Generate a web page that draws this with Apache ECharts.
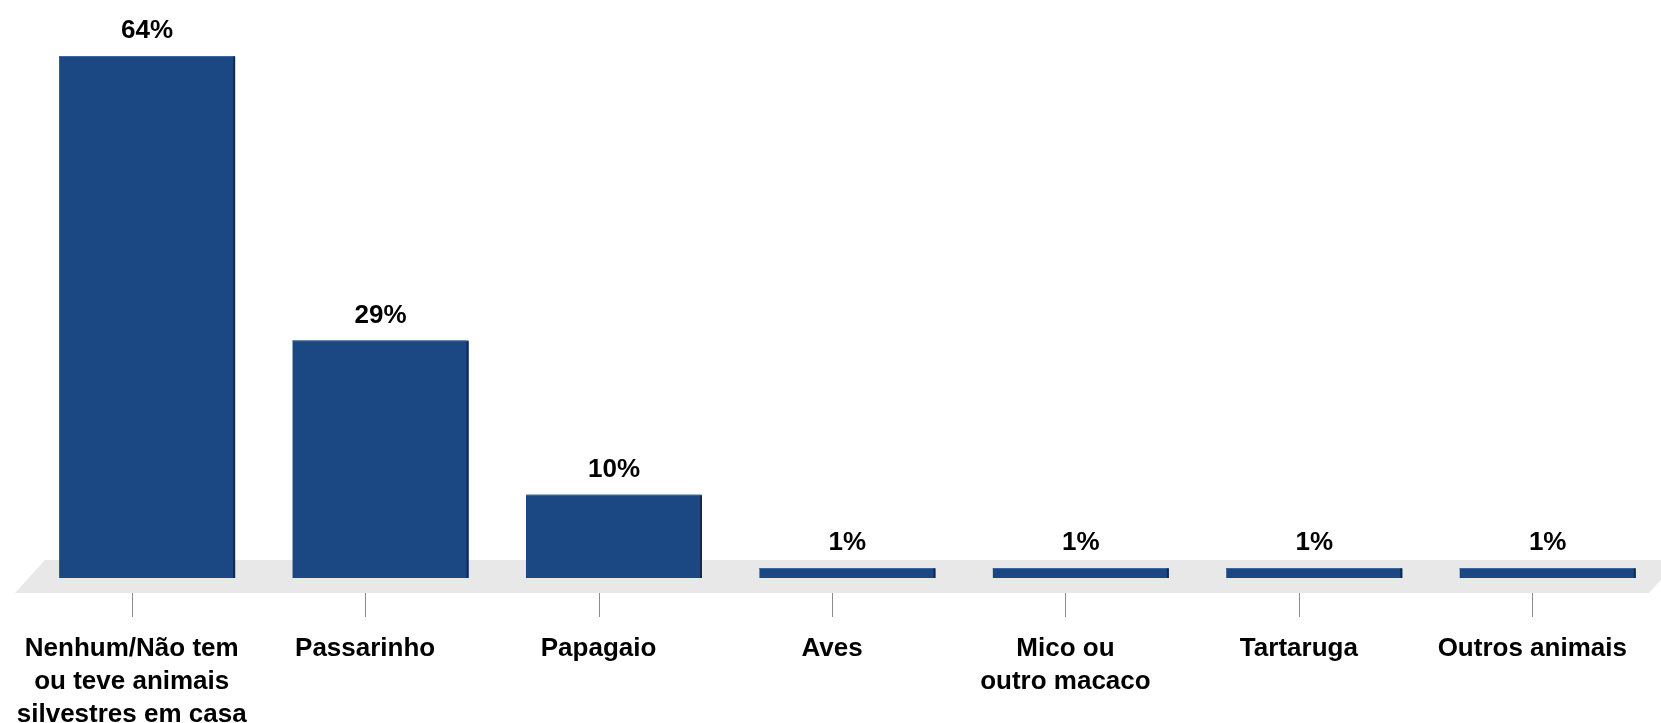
<!DOCTYPE html>
<html>
<head>
<meta charset="utf-8">
<title>Animais silvestres em casa</title>
<script src="https://cdn.jsdelivr.net/npm/echarts@6/dist/echarts.min.js"></script>
<style>
  html, body { margin: 0; padding: 0; background: #ffffff; }
  #chart { width: 1661px; height: 723px; }
</style>
</head>
<body>
<div id="chart"></div>
<script>
// Categories and their shares (percent)
const categories = [
  'Nenhum/Não tem\nou teve animais\nsilvestres em casa',
  'Passarinho',
  'Papagaio',
  'Aves',
  'Mico ou\noutro macaco',
  'Tartaruga',
  'Outros animais'
];
const shares = [64, 29, 10, 1, 1, 1, 1];

const FONT = '"Liberation Sans", Arial, Helvetica, sans-serif';
const BAR_COLOR = '#1b4882';
const BAR_SIDE = '#0f2b50';
const BAR_EDGE = '#3b679c';
const FLOOR_COLOR = '#e8e8e8';
const TICK_COLOR = '#8c8c8c';

const chart = echarts.init(document.getElementById('chart'), null, { renderer: 'canvas' });

// Grey perspective floor under the bars
function renderFloor(params, api) {
  const cs = params.coordSys;
  const yb = cs.y + cs.height;
  const slant = 30;
  return {
    type: 'polygon',
    shape: {
      points: [
        [cs.x, yb + 15],
        [cs.x + cs.width, yb + 15],
        [cs.x + cs.width + slant, yb - 18],
        [cs.x + slant, yb - 18]
      ]
    },
    style: { fill: FLOOR_COLOR },
    silent: true
  };
}

// Bars with a thin shaded side, their value label and the category tick
function renderBar(params, api) {
  const idx = api.value(0);
  const val = api.value(1);
  const base = api.coord([idx, 0]);
  const top = api.coord([idx, val]);
  const band = api.size([1, 0])[0];
  const w = band * 0.754;
  const cx = base[0] + band * 0.066;
  const x0 = cx - w / 2;
  const h = base[1] - top[1];
  const tx = Math.round(base[0]) + 0.5;
  return {
    type: 'group',
    children: [
      { type: 'rect', shape: { x: x0, y: top[1] - 2, width: w, height: h + 2 }, style: { fill: BAR_COLOR } },
      { type: 'rect', shape: { x: x0 + w - 2, y: top[1] - 1, width: 2, height: h + 1 }, style: { fill: BAR_SIDE } },
      { type: 'rect', shape: { x: x0, y: top[1] - 2, width: w - 2, height: 1 }, style: { fill: BAR_EDGE } },
      {
        type: 'line',
        shape: { x1: tx, y1: base[1] + 15, x2: tx, y2: base[1] + 39 },
        style: { stroke: TICK_COLOR, lineWidth: 1 }
      },
      {
        type: 'text',
        x: cx, y: top[1] - 27,
        style: {
          text: val + '%',
          font: 'bold 26px ' + FONT,
          fill: '#000000',
          align: 'center',
          verticalAlign: 'middle'
        }
      }
    ]
  };
}

chart.setOption({
  backgroundColor: '#ffffff',
  animation: false,
  grid: { left: 15, right: 12, top: 58, bottom: 145, containLabel: false, outerBoundsMode: 'none' },
  xAxis: {
    type: 'category',
    data: categories,
    offset: 15,
    axisLine: { show: false },
    axisTick: { show: false },
    axisLabel: {
      margin: 39,
      interval: 0,
      color: '#000000',
      fontFamily: FONT,
      fontWeight: 'bold',
      fontSize: 26,
      lineHeight: 33,
      verticalAlign: 'top'
    },
    splitLine: { show: false }
  },
  yAxis: {
    type: 'value',
    min: 0,
    max: 64,
    show: false,
    splitLine: { show: false }
  },
  series: [
    {
      type: 'custom',
      name: 'floor',
      renderItem: renderFloor,
      data: [[0, 0]],
      z: 1,
      silent: true
    },
    {
      type: 'custom',
      name: 'shares',
      renderItem: renderBar,
      data: shares.map((v, i) => [i, v]),
      encode: { x: 0, y: 1 },
      clip: false,
      z: 2
    }
  ]
});
</script>
</body>
</html>
